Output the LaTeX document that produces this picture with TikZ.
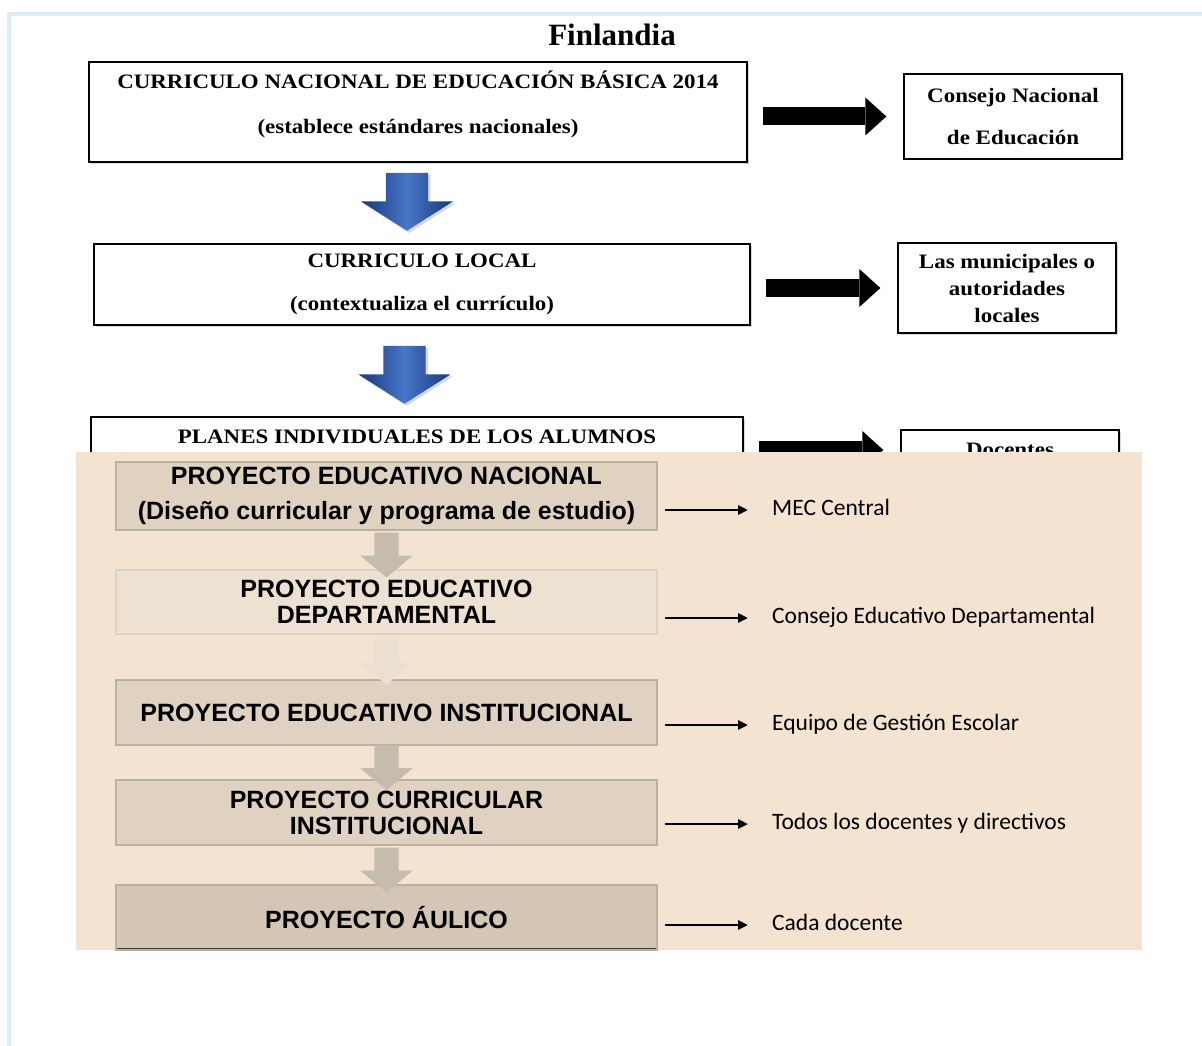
\documentclass[tikz,border=0pt]{standalone}
\usepackage{fontspec}
\newfontfamily\tnr{Liberation Serif}[FakeStretch=1.12]
\newfontfamily\tnrt{Liberation Serif}
\newfontfamily\arialb{Liberation Sans}
\newfontfamily\calib{Carlito}
\usepackage{tikz}
\usetikzlibrary{shapes.arrows}
\usetikzlibrary{arrows.meta}
\usetikzlibrary{calc}
\usetikzlibrary{shadows}
\definecolor{bordeazul}{RGB}{218,238,243}
\definecolor{fondo}{RGB}{244,227,209}
\definecolor{caja}{RGB}{223,210,193}
\definecolor{cajaclara}{RGB}{237,225,210}
\definecolor{cajaborde}{RGB}{190,176,158}
\definecolor{cajaosc}{RGB}{212,198,180}
\definecolor{azul}{RGB}{72,118,200}
\definecolor{azulosc}{RGB}{25,55,125}
\definecolor{gris}{RGB}{198,188,174}
\definecolor{grisclaro}{RGB}{234,223,209}
\tikzstyle{nivel}=[draw=black,fill=white,line width=1.3pt,align=center,
        font=\tnr\bfseries\fontsize{20.5}{27}\selectfont,
        drop shadow={opacity=0.3,shadow xshift=1.5pt,shadow yshift=-1.5pt}]
\tikzstyle{gruesa}=[line width=18pt,-{Triangle[length=21pt,width=38pt,line width=0pt]},
        shorten <=15pt,shorten >=17pt]
\tikzstyle{bajada}=[single arrow,shape border rotate=270,draw=none,inner sep=21pt,
        minimum height=58pt,single arrow head extend=25pt,single arrow tip angle=115,
        left color=azulosc,right color=azulosc,middle color=azul,drop shadow={opacity=0.3}]
\tikzstyle{proyecto}=[draw=cajaborde,fill=caja,line width=1.5pt,minimum width=541pt,
        align=center,font=\arialb\bfseries\fontsize{25}{26}\selectfont]
\tikzstyle{final}=[fill=cajaosc,path picture={\draw[black!75,line width=5pt]
        (path picture bounding box.south west) -- (path picture bounding box.south east);}]
\tikzstyle{bajadagris}=[single arrow,shape border rotate=270,draw=none,inner sep=12pt,
        minimum height=45pt,single arrow head extend=14pt,single arrow tip angle=100,fill=gris]
\tikzstyle{fina}=[line width=2.6pt,-{Triangle[length=10pt,width=9pt]},
        shorten <=7pt,shorten >=22pt]
\tikzstyle{quien}=[anchor=west,inner sep=2pt,text height=16pt,text depth=5pt,
        font=\calib\fontsize{23.5}{26}\selectfont]

\begin{document}
\begin{tikzpicture}[x=1pt,y=-1pt]
\useasboundingbox (0,0) rectangle (1202,1046);
\fill[white] (0,0) rectangle (1202,1046);
\fill[bordeazul] (7,12) rectangle (1202,16);
\fill[bordeazul] (7,12) rectangle (11,1046);
\node[font=\tnrt\bfseries\fontsize{31}{36}\selectfont] (tit) at (612,35) {Finlandia};
% Finlandia
\node[nivel,minimum width=658pt,minimum height=100pt] (cn) at (418,112)
    {CURRICULO NACIONAL DE EDUCACIÓN BÁSICA 2014\\[18pt](establece estándares nacionales)\\[-7pt]\mbox{}};
\node[nivel,minimum width=218pt,minimum height=85pt] (cons) at (1013,116.5)
    {Consejo Nacional\\[15pt]de Educación};
\node[nivel,minimum width=656pt,minimum height=81pt] (cl) at (422,284.5)
    {CURRICULO LOCAL\\[16pt](contextualiza el currículo)};
\node[nivel,minimum width=218pt,minimum height=90pt] (mun) at (1007,288)
    {Las municipales o\\autoridades\\locales};
\node[nivel,minimum width=652pt,minimum height=40pt] (pia) at (417,437)
    {PLANES INDIVIDUALES DE LOS ALUMNOS};
\node[nivel,minimum width=218pt,minimum height=40pt] (doc) at (1010,450) {Docentes};
\node[bajada] (f1) at ($(cn.south)!0.5!(cl.north)+(-13,-8)$) {};
\node[bajada] (f2) at ($(cl.south)!0.5!(pia.north)+(-15,-3)$) {};
\draw[gruesa] (cn.east |- cons.west) -- (cons.west);
\draw[gruesa] (cl.east |- mun.west) -- (mun.west);
\draw[gruesa] (pia.east |- doc.west) -- (doc.west);
% Paraguay
\fill[fondo] (76,452) rectangle (1142,950);
\node[proyecto,minimum height=68pt] (pen) at (386.5,496)
    {PROYECTO EDUCATIVO NACIONAL\\[9pt](Diseño curricular y programa de estudio)};
\node[proyecto,fill=cajaclara,draw=caja,minimum height=64pt] (ped) at (386.5,602)
    {PROYECTO EDUCATIVO\\DEPARTAMENTAL};
\node[proyecto,minimum height=65pt] (pei) at (386.5,712.5) {PROYECTO EDUCATIVO INSTITUCIONAL};
\node[proyecto,minimum height=65pt] (pci) at (386.5,812.5) {PROYECTO CURRICULAR\\INSTITUCIONAL};
\node[proyecto,final,minimum height=65pt] (pau) at (386.5,917.5) {PROYECTO ÁULICO};
\node[bajadagris] (g1) at ($(pen.south)!0.5!(ped.north)$) {};
\node[bajadagris,fill=grisclaro] (g2) at ($(ped.south)!0.5!(pei.north)$) {};
\node[bajadagris] (g3) at ($(pei.south)!0.5!(pci.north)$) {};
\node[bajadagris] (g4) at ($(pci.south)!0.5!(pau.north)$) {};
\node[quien] (mec) at (770,510) {MEC Central};
\node[quien] (ced) at (770,618) {Consejo Educativo Departamental};
\node[quien] (egs) at (770,725) {Equipo de Gestión Escolar};
\node[quien] (tdd) at (770,824) {Todos los docentes y directivos};
\node[quien] (cdo) at (770,925) {Cada docente};
\draw[fina] (pen.east |- mec.west) -- (mec.west);
\draw[fina] (ped.east |- ced.west) -- (ced.west);
\draw[fina] (pei.east |- egs.west) -- (egs.west);
\draw[fina] (pci.east |- tdd.west) -- (tdd.west);
\draw[fina] (pau.east |- cdo.west) -- (cdo.west);
\end{tikzpicture}
\end{document}
